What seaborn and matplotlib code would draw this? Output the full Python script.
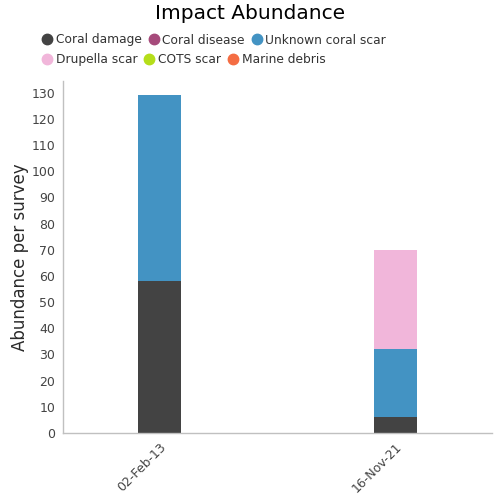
import matplotlib
matplotlib.use("Agg")
import matplotlib.pyplot as plt
from matplotlib.lines import Line2D
import seaborn as sns
import pandas as pd
import numpy as np

dates = ["02-Feb-13", "16-Nov-21"]
categories = ["Coral damage", "Coral disease", "Unknown coral scar",
              "Drupella scar", "COTS scar", "Marine debris"]
coral_damage = [58, 6]
coral_disease = [0, 0]
unknown_scar = [71, 26]
drupella_scar = [0, 38]
cots_scar = [0, 0]
marine_debris = [0, 0]
colors = ["#434343", "#a64a7b", "#4393c3", "#f1b6da", "#b5de1a", "#f46d43"]

series = [coral_damage, coral_disease, unknown_scar, drupella_scar, cots_scar, marine_debris]

sns.set_theme(style="white")
plt.rcParams['font.family'] = ['DejaVu Sans']

fig = plt.figure(figsize=(5, 5), dpi=100)
ax = fig.add_axes([0.126, 0.134, 0.858, 0.704])

cum = np.cumsum(np.array(series), axis=0)
for i in range(len(categories) - 1, -1, -1):
    df = pd.DataFrame({"date": dates, "value": cum[i]})
    sns.barplot(data=df, x="date", y="value", color=colors[i], width=0.182,
                saturation=1, ax=ax, linewidth=0)

ax.set_xlim(-0.409, 1.409)
ax.set_ylim(0, 134.5)
ax.set_yticks(range(0, 131, 10))
ax.set_xlabel("")
ax.set_ylabel("Abundance per survey", fontsize=12, color="#2a2a2a", labelpad=1.5)
ax.tick_params(axis="both", length=0, labelsize=9, colors="#444444", pad=5.5)
plt.setp(ax.get_xticklabels(), rotation=45, ha="right", rotation_mode="anchor")
for s in ["top", "right"]:
    ax.spines[s].set_visible(False)
for s in ["left", "bottom"]:
    ax.spines[s].set_color("#c0c0c0")
    ax.spines[s].set_linewidth(1)

fig.text(0.5, 0.973, "Impact Abundance", ha="center", va="center", fontsize=14.5, color="black")

def handles(idx):
    return [Line2D([], [], marker="o", linestyle="", markersize=7.5,
                   markerfacecolor=colors[i], markeredgecolor=colors[i]) for i in idx]

common = dict(loc="center left", ncol=3, frameon=False, fontsize=8.8,
              handletextpad=0.2, columnspacing=0.5, borderaxespad=0,
              handlelength=1.0, labelcolor="#333333")
leg1 = fig.legend(handles([0, 1, 2]), categories[0:3],
                  bbox_to_anchor=(0.072, 0.92), **common)
leg2 = fig.legend(handles([3, 4, 5]), categories[3:6],
                  bbox_to_anchor=(0.072, 0.881), **common)

fig.savefig("out.png", dpi=100)
